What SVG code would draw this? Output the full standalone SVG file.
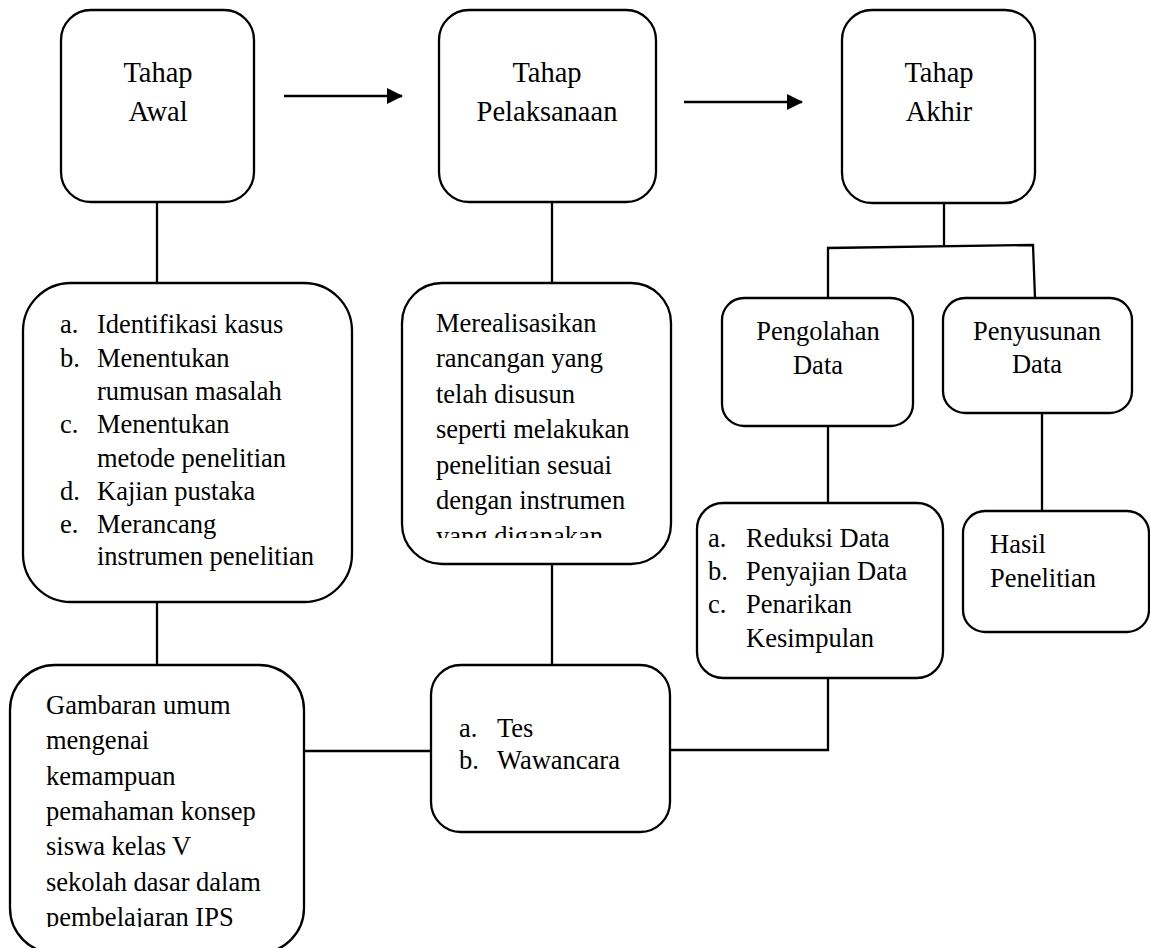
<svg xmlns="http://www.w3.org/2000/svg" width="1150" height="948" viewBox="0 0 1150 948">
<style>
.box{fill:#fff;stroke:#000;stroke-width:2.3}
.ln{fill:none;stroke:#000;stroke-width:2.3}
text{font-family:"Liberation Serif","Times New Roman",serif;fill:#000}
.t{font-size:28.5px;text-anchor:middle}
.m{font-size:26.5px;text-anchor:middle}
.b{font-size:26.5px}
</style>
<defs>
<marker id="ah" markerWidth="16" markerHeight="16" refX="15" refY="8" orient="auto" markerUnits="userSpaceOnUse">
<path d="M0,0 L16,8 L0,16 Z" fill="#000"/>
</marker>
<clipPath id="clipM"><rect x="402" y="283" width="270" height="255"/></clipPath>
<clipPath id="clipG"><rect x="10" y="665" width="295" height="262"/></clipPath>
</defs>
<g id="connectors">
<line class="ln" x1="284" y1="96" x2="402" y2="96" marker-end="url(#ah)"/>
<line class="ln" x1="684" y1="102" x2="802" y2="102" marker-end="url(#ah)"/>
<line class="ln" x1="157" y1="202" x2="157" y2="283"/>
<line class="ln" x1="552" y1="202" x2="552" y2="283"/>
<polyline class="ln" points="944,203 944,247"/>
<polyline class="ln" points="828,298 828,248 1033,245 1035,298"/>
<line class="ln" x1="157" y1="602" x2="157" y2="665"/>
<line class="ln" x1="552" y1="564" x2="552" y2="665"/>
<line class="ln" x1="828" y1="426" x2="828" y2="503"/>
<line class="ln" x1="1042" y1="413" x2="1042" y2="511"/>
<line class="ln" x1="304" y1="751" x2="431" y2="751"/>
<polyline class="ln" points="670,750 828,750 828,678"/>
</g>
<g id="tahap-awal">
<rect class="box" x="61" y="10" width="193" height="192" rx="30"/>
<text class="t" x="158" y="82">Tahap</text>
<text class="t" x="158" y="121">Awal</text>
</g>
<g id="tahap-pelaksanaan">
<rect class="box" x="439" y="10" width="217" height="192" rx="30"/>
<text class="t" x="547" y="82">Tahap</text>
<text class="t" x="547" y="121">Pelaksanaan</text>
</g>
<g id="tahap-akhir">
<rect class="box" x="842" y="10" width="193" height="193" rx="30"/>
<text class="t" x="939" y="82">Tahap</text>
<text class="t" x="939" y="121">Akhir</text>
</g>
<g id="awal-detail">
<rect class="box" x="23" y="283" width="329" height="319" rx="48"/>
<text class="b" x="60" y="333">a.</text><text class="b" x="97" y="333">Identifikasi kasus</text>
<text class="b" x="60" y="367">b.</text><text class="b" x="97" y="367">Menentukan</text>
<text class="b" x="97" y="400">rumusan masalah</text>
<text class="b" x="60" y="433">c.</text><text class="b" x="97" y="433">Menentukan</text>
<text class="b" x="97" y="467">metode penelitian</text>
<text class="b" x="60" y="500">d.</text><text class="b" x="97" y="500">Kajian pustaka</text>
<text class="b" x="60" y="533">e.</text><text class="b" x="97" y="533">Merancang</text>
<text class="b" x="97" y="565">instrumen penelitian</text>
</g>
<g id="pelaksanaan-detail">
<rect class="box" x="402" y="283" width="269" height="281" rx="40"/>
<g clip-path="url(#clipM)">
<text class="b" x="436" y="332">Merealisasikan</text>
<text class="b" x="436" y="367">rancangan yang</text>
<text class="b" x="436" y="403">telah disusun</text>
<text class="b" x="436" y="438">seperti melakukan</text>
<text class="b" x="436" y="474">penelitian sesuai</text>
<text class="b" x="436" y="509">dengan instrumen</text>
<text class="b" x="436" y="545">yang diganakan.</text>
</g>
</g>
<g id="pengolahan-data">
<rect class="box" x="722" y="298" width="191" height="128" rx="22"/>
<text class="m" x="818" y="340">Pengolahan</text>
<text class="m" x="818" y="374">Data</text>
</g>
<g id="penyusunan-data">
<rect class="box" x="943" y="298" width="189" height="115" rx="22"/>
<text class="m" x="1037" y="340">Penyusunan</text>
<text class="m" x="1037" y="373">Data</text>
</g>
<g id="pengolahan-detail">
<rect class="box" x="697" y="503" width="246" height="175" rx="26"/>
<text class="b" x="708" y="547">a.</text><text class="b" x="746" y="547">Reduksi Data</text>
<text class="b" x="708" y="580">b.</text><text class="b" x="746" y="580">Penyajian Data</text>
<text class="b" x="708" y="613">c.</text><text class="b" x="746" y="613">Penarikan</text>
<text class="b" x="746" y="647">Kesimpulan</text>
</g>
<g id="hasil-penelitian">
<rect class="box" x="963" y="511" width="186" height="121" rx="22"/>
<text class="b" x="990" y="553">Hasil</text>
<text class="b" x="990" y="587">Penelitian</text>
</g>
<g id="gambaran-umum">
<rect class="box" x="10" y="665" width="294" height="288" rx="45"/>
<g clip-path="url(#clipG)">
<text class="b" x="46" y="714">Gambaran umum</text>
<text class="b" x="46" y="749">mengenai</text>
<text class="b" x="46" y="785">kemampuan</text>
<text class="b" x="46" y="820">pemahaman konsep</text>
<text class="b" x="46" y="855">siswa kelas V</text>
<text class="b" x="46" y="891">sekolah dasar dalam</text>
<text class="b" x="46" y="926">pembelajaran IPS</text>
</g>
</g>
<g id="tes-wawancara">
<rect class="box" x="431" y="665" width="239" height="167" rx="30"/>
<text class="b" x="459" y="737">a.</text><text class="b" x="497" y="737">Tes</text>
<text class="b" x="459" y="769">b.</text><text class="b" x="497" y="769">Wawancara</text>
</g>
</svg>
